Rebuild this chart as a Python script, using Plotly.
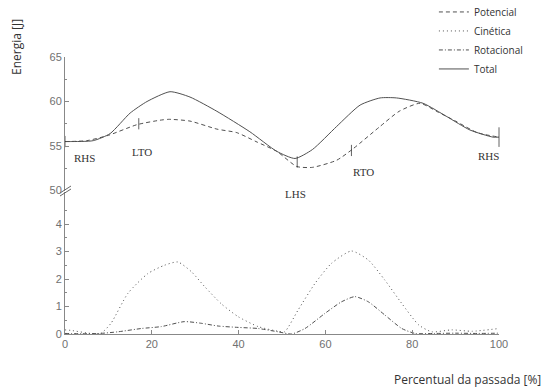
import plotly.graph_objects as go

# ---- data ----
x_total = [0, 1.2, 6.5, 10.4, 15, 18.9, 24.2, 28.8, 35, 42.6, 48.8, 53, 57, 62.6, 68, 72.6, 76.4, 82.5, 88, 93.3, 98.6, 100]
total = [55.5, 55.5, 55.6, 56.4, 58.7, 60.0, 61.1, 60.5, 58.9, 56.6, 54.4, 53.6, 54.6, 57.2, 59.6, 60.4, 60.4, 59.8, 58.3, 56.8, 56.0, 56.0]

x_pot = [0, 5, 10, 16.6, 21.9, 24, 28.8, 35, 39.6, 44, 48.8, 53.4, 57, 62.6, 66.4, 72.6, 77, 81.8, 86, 90, 95, 100]
potencial = [55.5, 55.6, 56.2, 57.4, 57.9, 58.0, 57.8, 56.9, 56.5, 55.5, 54.4, 52.7, 52.6, 53.4, 54.7, 57.2, 58.9, 59.8, 58.8, 57.8, 56.5, 56.0]

x_cin = [0, 1.4, 6, 8.3, 10.6, 14.5, 19.1, 22.9, 26, 29.1, 32.2, 36, 39.9, 44.5, 49.1, 50.6, 53.7, 57.6, 61.4, 66, 69.9, 73.7, 77.6, 81.5, 84.5, 89.1, 93.8, 100]
cinetica = [0.15, 0.13, 0.02, 0.03, 0.39, 1.48, 2.2, 2.5, 2.62, 2.27, 1.72, 1.1, 0.63, 0.27, 0.1, 0.08, 0.87, 1.84, 2.57, 3.02, 2.69, 1.96, 1.11, 0.33, 0.08, 0.15, 0.1, 0.2]

x_rot = [0, 4, 8, 12.2, 17.6, 22.2, 27.5, 31.4, 35.3, 39.9, 44.5, 49.1, 52.2, 55.3, 59.9, 63.7, 66.8, 69.9, 73.7, 77.6, 80.7, 85, 90, 95, 100]
rotacional = [0.02, 0.01, 0.02, 0.08, 0.2, 0.27, 0.45, 0.39, 0.29, 0.24, 0.2, 0.08, 0.0, 0.2, 0.75, 1.17, 1.36, 1.17, 0.69, 0.2, 0.02, 0.02, 0.03, 0.02, 0.03]

event_x = [0, 17, 53.5, 66, 100]
event_y = [55.5, 57.5, 53.2, 54.5, 56.0]
event_size = [8, 8, 8, 8, 14]

label_text = ["RHS", "LTO", "LHS", "RTO", "RHS"]
label_x = [4.6, 17.7, 53.0, 68.7, 97.6]
label_y = [53.6, 54.3, 49.6, 52.1, 53.9]

upper_ticks = [50, 55, 60, 65]
lower_ticks = [0, 1, 2, 3, 4]
x_ticks = [0, 20, 40, 60, 80, 100]

UPPER_RANGE = [50, 65]
UPPER_DOMAIN = [0.518, 1]

# ---- figure ----
LC = "#505050"
fig = go.Figure()
fig.add_trace(go.Scatter(x=x_pot, y=potencial, mode="lines", name="Potencial", yaxis="y2",
                         line=dict(color=LC, width=1, dash="4px,3px", shape="spline", smoothing=0.6)))
fig.add_trace(go.Scatter(x=x_cin, y=cinetica, mode="lines", name="Cinética", yaxis="y",
                         line=dict(color=LC, width=1, dash="1px,3px", shape="spline", smoothing=0.6)))
fig.add_trace(go.Scatter(x=x_rot, y=rotacional, mode="lines", name="Rotacional", yaxis="y",
                         line=dict(color=LC, width=1, dash="4px,2px,1px,2px", shape="spline", smoothing=0.6)))
fig.add_trace(go.Scatter(x=x_total, y=total, mode="lines", name="Total", yaxis="y2",
                         line=dict(color=LC, width=1, shape="spline", smoothing=0.6)))
fig.add_trace(go.Scatter(x=event_x, y=event_y, mode="markers", yaxis="y2", showlegend=False,
                         cliponaxis=False,
                         marker=dict(symbol="line-ns", size=event_size, line=dict(color="#222", width=1))))

TF = dict(family="Liberation Sans", size=11, color="#707070")
fig.update_layout(
    width=544, height=389,
    margin=dict(l=65, r=45, t=57, b=55, autoexpand=False),
    paper_bgcolor="white", plot_bgcolor="white",
    showlegend=True,
    legend=dict(x=0.85, y=1.215, xanchor="left", yanchor="top", bgcolor="rgba(0,0,0,0)",
                font=dict(family="Open Sans", size=10, color="#333"), tracegroupgap=0,
                itemwidth=30),
    xaxis=dict(range=[0, 100], tickvals=x_ticks, ticks="inside", ticklen=4, tickcolor="#888",
               showline=True, linecolor="#888", linewidth=1, showgrid=False, zeroline=False,
               tickfont=TF, anchor="y"),
    yaxis=dict(domain=[0, 0.514], range=[0, 5.18], tickvals=lower_ticks, ticks="inside", ticklen=4,
               tickcolor="#888", showline=True, linecolor="#888", linewidth=1, showgrid=False,
               zeroline=False, tickfont=TF, anchor="x",
               minor=dict(tickvals=[0.5, 1.5, 2.5, 3.5, 4.5], ticks="inside", ticklen=2, tickcolor="#888")),
    yaxis2=dict(domain=UPPER_DOMAIN, range=UPPER_RANGE, tickvals=upper_ticks, ticks="inside", ticklen=4,
                tickcolor="#888", showline=True, linecolor="#888", linewidth=1, showgrid=False,
                zeroline=False, tickfont=TF, anchor="x",
                minor=dict(tickvals=[52.5, 57.5, 62.5], ticks="inside", ticklen=2, tickcolor="#888")),
)


def upper_to_paper(v):
    f = (v - UPPER_RANGE[0]) / (UPPER_RANGE[1] - UPPER_RANGE[0])
    return UPPER_DOMAIN[0] + f * (UPPER_DOMAIN[1] - UPPER_DOMAIN[0])


# event labels
for t, lx, ly in zip(label_text, label_x, label_y):
    fig.add_annotation(x=lx, y=upper_to_paper(ly), xref="x", yref="paper", text=t, showarrow=False,
                       xanchor="center", yanchor="middle",
                       font=dict(family="Liberation Serif", size=11, color="#333"))

# axis titles
fig.add_annotation(x=(17 - 65) / 434, y=(334 - 47) / 277, xref="paper", yref="paper",
                   text="Energia [J]", textangle=-90, showarrow=False,
                   xanchor="center", yanchor="middle",
                   font=dict(family="Open Sans", size=12, color="#333"))
fig.add_annotation(x=(543 - 65) / 434, y=(334 - 379) / 277, xref="paper", yref="paper",
                   text="Percentual da passada [%]", xanchor="right", yanchor="middle", showarrow=False,
                   font=dict(family="Open Sans", size=12, color="#333"))

# axis break marks
def px(xp):
    return (xp - 65) / 434

def py(yp):
    return (334 - yp) / 277

for dy in (0, 3):
    fig.add_shape(type="line", xref="paper", yref="paper",
                  x0=px(60), y0=py(196 - dy), x1=px(71), y1=py(189 - dy),
                  line=dict(color="#666", width=1))

fig.write_html("out.html")
